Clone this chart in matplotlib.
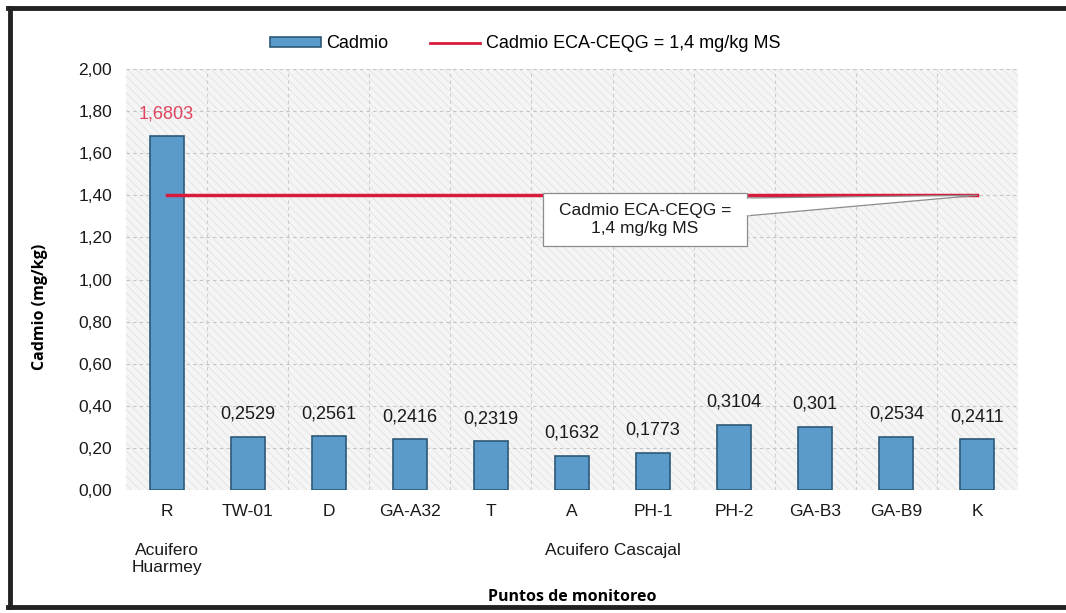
import matplotlib
matplotlib.use("Agg")
import matplotlib.pyplot as plt
from matplotlib.patches import Rectangle, Polygon
from matplotlib.lines import Line2D
from matplotlib.patches import Patch

categories = ["R", "TW-01", "D", "GA-A32", "T", "A", "PH-1", "PH-2", "GA-B3", "GA-B9", "K"]
values = [1.6803, 0.2529, 0.2561, 0.2416, 0.2319, 0.1632, 0.1773, 0.3104, 0.301, 0.2534, 0.2411]
value_labels = ["1,6803", "0,2529", "0,2561", "0,2416", "0,2319", "0,1632", "0,1773",
                "0,3104", "0,301", "0,2534", "0,2411"]
limit_value = 1.4
yticks = [0.0, 0.2, 0.4, 0.6, 0.8, 1.0, 1.2, 1.4, 1.6, 1.8, 2.0]
ytick_labels = ["0,00", "0,20", "0,40", "0,60", "0,80", "1,00", "1,20", "1,40", "1,60", "1,80", "2,00"]
groups = [("Acuifero\nHuarmey", 0, 0), ("Acuifero Cascajal", 1, 10)]

plt.rcParams['font.family'] = ['Liberation Sans', 'DejaVu Sans']
plt.rcParams['hatch.linewidth'] = 0.5

W, H = 1066, 613
fig = plt.figure(figsize=(W / 100, H / 100), dpi=100)
L, R, T, B = 126, 1018, 69, 490
ax = fig.add_axes([L / W, 1 - B / H, (R - L) / W, (B - T) / H])

x = list(range(len(categories)))
ax.set_xlim(-0.5, len(categories) - 0.5)
ax.set_ylim(0, 2.0)

# background
ax.set_facecolor('#f5f5f5')
ax.add_patch(Rectangle((0, 0), 1, 1, transform=ax.transAxes, facecolor='none',
                       edgecolor='#dedede', linewidth=0, hatch='\\\\\\\\', zorder=0))
for yt in yticks:
    ax.axhline(yt, color='#c4c4c4', lw=0.8, ls=(0, (3, 3)), zorder=0.5)
for i in range(len(categories) - 1):
    ax.axvline(i + 0.5, color='#cccccc', lw=0.8, ls=(0, (3, 3)), zorder=0.5)

bar_color = '#5b9bcb'
ax.bar(x, values, width=0.42, color=bar_color, edgecolor='#2c5a76', linewidth=1.2, zorder=2)

ax.plot([x[0], x[-1]], [limit_value, limit_value], color='#d81b3c', lw=2.5, zorder=3)

for i, (v, lab) in enumerate(zip(values, value_labels)):
    col = '#e0445e' if v > limit_value else '#1a1a1a'
    ax.annotate(lab, (i, v), xytext=(0, 10), textcoords='offset points',
                ha='center', va='bottom', fontsize=13, color=col, zorder=5)

for s in ax.spines.values():
    s.set_visible(False)
ax.tick_params(length=0)
ax.set_yticks(yticks)
ax.set_yticklabels(ytick_labels, fontsize=12.5, color='#1a1a1a')
ax.tick_params(axis='y', pad=10)
ax.set_xticks(x)
ax.set_xticklabels(categories, fontsize=12.5, color='#1a1a1a')
ax.tick_params(axis='x', pad=10)

for name, i0, i1 in groups:
    ax.text((i0 + i1) / 2, -0.25, name, ha='center', va='top', fontsize=12.5,
            color='#1a1a1a', transform=ax.transData, linespacing=1.2)

fig.text((L + R) / 2 / W, 1 - 597 / H, "Puntos de monitoreo", ha='center', va='center',
         fontsize=11.5, fontweight='bold', family=['Open Sans', 'DejaVu Sans'])
fig.text(40 / W, 1 - 307 / H, "Cadmio (mg/kg)", ha='center', va='center', rotation=90,
         fontsize=11.5, fontweight='bold', family=['Open Sans', 'DejaVu Sans'])

# callout
bx0, bx1 = 543, 747
by0, by1 = 193, 246
def px2data(px, py):
    xd = (px - L) / (R - L) * len(categories) - 0.5
    yd = (B - py) / (B - T) * 2.0
    return xd, yd
wedge = Polygon([px2data(bx1 - 2, 198), (x[-1], limit_value), px2data(bx1 - 2, 216)],
                closed=True, facecolor='white', edgecolor='#8c8c8c', lw=0.9, zorder=6)
ax.add_patch(wedge)
(xa, ya) = px2data(bx0, by1)
(xb, yb) = px2data(bx1, by0)
ax.add_patch(Rectangle((xa, ya), xb - xa, yb - ya, facecolor='white', edgecolor='#8c8c8c',
                       lw=0.9, zorder=7))
ax.add_patch(Polygon([px2data(bx1 - 1, 199), px2data(bx1 + 3, 198.5), px2data(bx1 + 3, 215.5),
                      px2data(bx1 - 1, 215)], closed=True, facecolor='white', edgecolor='none', zorder=8))
ax.text((xa + xb) / 2, (ya + yb) / 2, "Cadmio ECA-CEQG =\n1,4 mg/kg MS", ha='center',
        va='center', fontsize=12.5, color='#1a1a1a', zorder=9, linespacing=1.2)

handles = [Patch(facecolor=bar_color, edgecolor='#2c5a76', linewidth=1.2),
           Line2D([0], [0], color='#d81b3c', lw=2)]
fig.legend(handles, ["Cadmio", "Cadmio ECA-CEQG = 1,4 mg/kg MS"], loc='center',
           bbox_to_anchor=(525 / W, 1 - 44 / H), ncol=2, frameon=False, fontsize=13,
           handlelength=2.8, handleheight=0.5, columnspacing=2.3, handletextpad=0.3)

# outer frame
fig.add_artist(Line2D([10 / W, 10 / W], [1 - 8 / H, 1 - 607 / H], color='#222222', lw=3.5,
                      transform=fig.transFigure))
fig.add_artist(Line2D([8 / W, 1066 / W], [1 - 8 / H, 1 - 8 / H], color='#222222', lw=3.5,
                      transform=fig.transFigure))
fig.add_artist(Line2D([8 / W, 1066 / W], [1 - 607 / H, 1 - 607 / H], color='#222222', lw=3.5,
                      transform=fig.transFigure))

fig.savefig("out.png", dpi=100)
